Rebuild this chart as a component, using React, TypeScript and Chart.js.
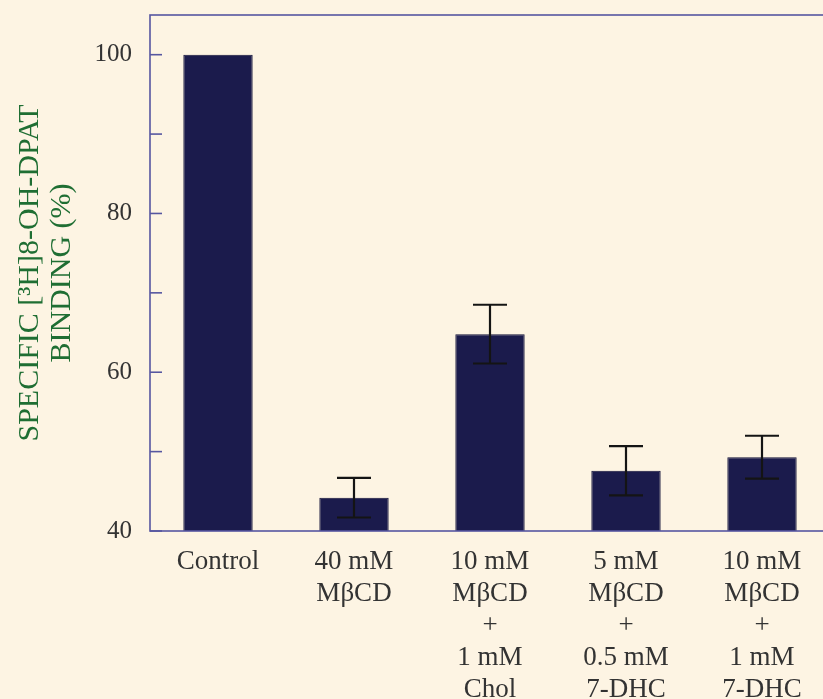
import React, { useEffect, useRef } from "react";
import { Chart, registerables } from "chart.js";

Chart.register(...registerables);

const categories: string[][] = [
  ["Control"],
  ["40 mM", "MβCD"],
  ["10 mM", "MβCD", "+", "1 mM", "Chol"],
  ["5 mM", "MβCD", "+", "0.5 mM", "7-DHC"],
  ["10 mM", "MβCD", "+", "1 mM", "7-DHC"],
];
const bindingValues: number[] = [100, 44.2, 64.8, 47.6, 49.3];
const errorValues: number[] = [0, 2.5, 3.7, 3.1, 2.7];
const yTickValues: number[] = [40, 50, 60, 70, 80, 90, 100];
const yLabelledTicks: number[] = [40, 60, 80, 100];
const yTitle: string[] = ["SPECIFIC [³H]8-OH-DPAT", "BINDING (%)"];

const BG = "#fdf4e3";
const AXIS = "#5656a0";
const FONT = "'Liberation Serif', 'Times New Roman', serif";

const framePlugin = {
  id: "frameAndErrors",
  afterDatasetsDraw(chart: any) {
    const { ctx, chartArea, scales } = chart;
    const y = scales.y;
    const meta = chart.getDatasetMeta(0);
    ctx.save();
    // error bars
    ctx.strokeStyle = "#141414";
    ctx.lineWidth = 2.2;
    meta.data.forEach((bar: any, i: number) => {
      const e = errorValues[i];
      if (!e) return;
      const v = bindingValues[i];
      const x = bar.x;
      const yTop = y.getPixelForValue(v + e);
      const yBot = y.getPixelForValue(v - e);
      const cap = 17;
      ctx.beginPath();
      ctx.moveTo(x, yTop);
      ctx.lineTo(x, yBot);
      ctx.moveTo(x - cap, yTop);
      ctx.lineTo(x + cap, yTop);
      ctx.moveTo(x - cap, yBot);
      ctx.lineTo(x + cap, yBot);
      ctx.stroke();
    });
    // frame
    ctx.strokeStyle = AXIS;
    ctx.lineWidth = 1.6;
    ctx.strokeRect(chartArea.left, chartArea.top, chartArea.right - chartArea.left, chartArea.bottom - chartArea.top);
    // inward ticks
    yTickValues.forEach((v) => {
      const py = y.getPixelForValue(v);
      ctx.beginPath();
      ctx.moveTo(chartArea.left, py);
      ctx.lineTo(chartArea.left + 12, py);
      ctx.stroke();
    });
    ctx.restore();
  },
};

export default function App() {
  const ref = useRef<HTMLCanvasElement | null>(null);
  useEffect(() => {
    if (!ref.current) return;
    const chart = new Chart(ref.current, {
      type: "bar",
      data: {
        labels: categories,
        datasets: [
          {
            data: bindingValues,
            backgroundColor: "#1b1b4c",
            borderColor: "#121238",
            borderWidth: 1,
            barPercentage: 0.51,
            categoryPercentage: 1,
          },
        ],
      },
      options: {
        responsive: false,
        animation: false,
        layout: { padding: { left: 14, top: 15, right: 10, bottom: 0 } },
        plugins: { legend: { display: false }, tooltip: { enabled: false } },
        scales: {
          x: {
            offset: true,
            grid: { display: false, drawTicks: false },
            border: { display: false },
            ticks: {
              color: "#333333",
              font: { family: FONT, size: 27, lineHeight: 1.185 },
              padding: 15,
              maxRotation: 0,
              autoSkip: false,
            },
            afterFit: (s: any) => {
              s.height = 168;
              s.paddingLeft = 0;
              s.paddingRight = 0;
            },
          },
          y: {
            min: 40,
            max: 105,
            afterBuildTicks: (s: any) => {
              s.ticks = yTickValues.map((v) => ({ value: v }));
            },
            grid: { display: false, drawTicks: false },
            border: { display: false },
            ticks: {
              color: "#333333",
              font: { family: FONT, size: 25 },
              padding: 18,
              callback: (v: any) => (yLabelledTicks.includes(Number(v)) ? String(v) : ""),
            },
            title: {
              display: true,
              text: yTitle,
              color: "#1f6e33",
              font: { family: FONT, size: 30, lineHeight: 1.07 },
              padding: 0,
            },
            afterFit: (s: any) => {
              s.width = 136;
              s.paddingTop = 0;
              s.paddingBottom = 0;
            },
          },
        },
      },
      plugins: [framePlugin],
    });
    return () => chart.destroy();
  }, []);
  return (
    <div style={{ position: "fixed", left: 0, top: 0, width: 823, height: 699, overflow: "hidden", background: BG }}>
      <canvas ref={ref} width={840} height={699} style={{ display: "block", width: 840, height: 699 }} />
    </div>
  );
}
